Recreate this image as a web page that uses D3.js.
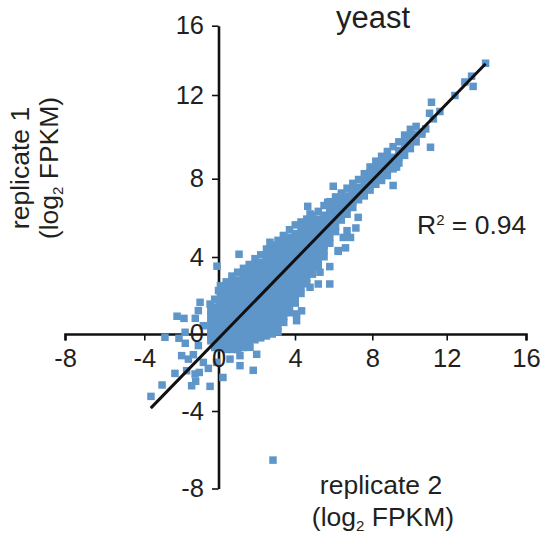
<!DOCTYPE html>
<html>
<head>
<meta charset="utf-8">
<script src="https://d3js.org/d3.v7.min.js"></script>
<style>
  html, body { margin: 0; padding: 0; background: #fff; }
  text { font-family: "Liberation Sans", Arial, sans-serif; fill: #231f20; }
</style>
</head>
<body>
<svg id="chart" width="542" height="537"></svg>
<script>
const xTicks = [-8, -4, 0, 4, 8, 12, 16];
const yTicks = [-8, -4, 0, 4, 8, 12, 16];

// fit line, replicate 2 / replicate 1
const fitX = [-3.53, 13.92];
const fitY = [-3.84, 13.99];

// isolated points
const outlierX = [-3.52, -2.94, -2.27, -1.40, -1.19, -0.44, 0.23, 1.81, 1.12, 1.99, -2.79, -2.06, -1.73, -1.74, -2.16, -1.80, -1.21, -0.96, -0.44, 0.00, -0.08, 1.07, -1.92, -1.57, -1.31, -1.66, -1.22, -1.00, -0.53, -0.79, -1.05, -1.05, -0.79, 1.12, 0.60, 1.64, -0.10, 2.84,
  13.92, 13.19, 13.27, 12.84, 12.32, 11.10, 11.00, 11.54, 11.20, 10.80, 11.05, 9.10, 5.98, 4.65, 4.77, 5.69, 3.38, 2.68, 7.28, 7.16, 6.88, 6.62, 6.24, 9.28,
  4.07, 4.33, 4.07, 5.20, 5.80, 5.80, 5.29, 4.77, 6.50, 6.24, 6.70];
const outlierY = [-3.23, -2.64, -2.04, -2.68, -2.45, -2.71, -2.25, -1.88, -1.64, -1.05, -0.17, -0.22, -0.48, 0.09, 0.92, 0.81, 0.81, 1.64, 1.55, 2.25, 3.51, 4.13, -1.12, -1.30, -1.07, -1.90, -2.07, -1.99, -1.78, -1.47, -0.60, 1.21, 0.43, -1.12, -1.30, -0.69, -1.47, -6.53,
  14.02, 13.35, 12.82, 13.05, 12.35, 12.00, 11.43, 11.52, 11.14, 10.62, 9.67, 7.69, 7.65, 6.61, 6.22, 6.82, 5.09, 4.75, 6.04, 5.49, 5.00, 4.46, 4.28, 8.64,
  0.69, 1.20, 1.04, 2.59, 2.59, 3.49, 3.20, 2.42, 5.00, 4.32, 5.35];

// dense cloud, listed column by column
const cloudCols = [-0.4, -0.2, 0.1, 0.4, 0.7, 1.0, 1.3, 1.6, 1.9, 2.2, 2.5, 2.8, 3.1, 3.4, 3.7, 4.0, 4.3, 4.6, 4.9, 5.2, 5.5, 5.8, 6.1, 6.4, 6.7, 7.0, 7.3, 7.6, 7.9, 8.2, 8.5, 8.8, 9.1, 9.4, 9.7, 10.0, 10.3, 10.6];
const cloudRows = [
  [-0.35, -0.05, 0.25, 0.55, 0.85, 1.2],
  [-0.7, -0.4, -0.1, 0.2, 0.5, 0.8, 1.1, 1.4, 1.8],
  [-0.7, -0.4, -0.1, 0.2, 0.5, 0.8, 1.1, 1.4, 1.7, 2.0, 2.25, 2.5],
  [-0.8, -0.5, -0.2, 0.1, 0.4, 0.7, 1.0, 1.3, 1.6, 1.9, 2.2, 2.45, 2.7],
  [-0.8, -0.5, -0.2, 0.1, 0.4, 0.7, 1.0, 1.3, 1.6, 1.9, 2.2, 2.5, 2.75, 3.0],
  [-0.8, -0.5, -0.2, 0.1, 0.4, 0.7, 1.0, 1.3, 1.6, 1.9, 2.2, 2.5, 2.8, 3.2],
  [-0.7, -0.4, -0.1, 0.2, 0.5, 0.8, 1.1, 1.4, 1.7, 2.0, 2.3, 2.6, 2.9, 3.15, 3.4],
  [-0.5, -0.2, 0.1, 0.4, 0.7, 1.0, 1.3, 1.6, 1.9, 2.2, 2.5, 2.8, 3.1, 3.35, 3.6],
  [-0.3, 0.0, 0.3, 0.6, 0.9, 1.2, 1.5, 1.8, 2.1, 2.4, 2.7, 3.0, 3.3, 3.6, 3.9],
  [-0.2, 0.1, 0.4, 0.7, 1.0, 1.3, 1.6, 1.9, 2.2, 2.5, 2.8, 3.1, 3.4, 3.7, 4.1],
  [-0.1, 0.2, 0.5, 0.8, 1.1, 1.4, 1.7, 2.0, 2.3, 2.6, 2.9, 3.2, 3.5, 3.8, 4.1, 4.4],
  [0.0, 0.3, 0.6, 0.9, 1.2, 1.5, 1.8, 2.1, 2.4, 2.7, 3.0, 3.3, 3.6, 3.9, 4.25, 4.6],
  [0.1, 0.4, 0.7, 1.0, 1.3, 1.6, 1.9, 2.2, 2.5, 2.8, 3.1, 3.4, 3.7, 4.0, 4.3, 4.55, 4.85],
  [0.6, 0.9, 1.2, 1.5, 1.8, 2.1, 2.4, 2.7, 3.0, 3.3, 3.6, 3.9, 4.2, 4.5, 4.8, 5.1],
  [1.1, 1.4, 1.7, 2.0, 2.3, 2.6, 2.9, 3.2, 3.5, 3.8, 4.1, 4.4, 4.7, 5.0, 5.4],
  [1.6, 1.9, 2.2, 2.5, 2.8, 3.1, 3.4, 3.7, 4.0, 4.3, 4.6, 4.9, 5.2, 5.65],
  [2.1, 2.4, 2.7, 3.0, 3.3, 3.6, 3.9, 4.2, 4.5, 4.8, 5.1, 5.45, 5.8],
  [2.6, 2.9, 3.2, 3.5, 3.8, 4.1, 4.4, 4.7, 5.0, 5.3, 5.6, 5.95],
  [3.1, 3.4, 3.7, 4.0, 4.3, 4.6, 4.9, 5.2, 5.5, 5.85, 6.15],
  [3.5, 3.8, 4.1, 4.4, 4.7, 5.0, 5.3, 5.6, 5.95, 6.35],
  [4.0, 4.3, 4.6, 4.9, 5.2, 5.5, 5.8, 6.15, 6.65],
  [4.7, 5.0, 5.3, 5.6, 5.9, 6.2, 6.5, 6.85],
  [5.3, 5.6, 5.9, 6.2, 6.5, 6.8, 7.1],
  [5.9, 6.2, 6.5, 6.8, 7.05, 7.3],
  [6.2, 6.5, 6.8, 7.15, 7.55],
  [6.55, 6.85, 7.15, 7.45, 7.8],
  [6.95, 7.25, 7.6, 8.0],
  [7.15, 7.45, 7.75, 8.0, 8.3],
  [7.45, 7.75, 8.05, 8.35, 8.65],
  [7.75, 8.05, 8.35, 8.65, 8.95],
  [7.95, 8.25, 8.55, 8.85, 9.2],
  [8.2, 8.5, 8.8, 9.1, 9.45],
  [8.55, 8.85, 9.15, 9.7],
  [8.85, 9.15, 9.5, 9.95],
  [9.25, 9.6, 9.95, 10.3],
  [9.6, 9.9, 10.25, 10.6],
  [9.95, 10.35, 10.75],
  [10.35, 10.45]
];

const svg = d3.select('#chart');
const x = d3.scaleLinear().domain([-8, 16]).range([65, 525.5]);
const y = d3.scaleLinear().domain([-8, 16]).range([488.5, 25]);
// the printed axes are not quite even, so ticks get their own scales
const xTickScale = d3.scaleLinear().domain(xTicks).range([65, 144.3, 218.5, 295, 372.3, 446.7, 526]);
const yTickScale = d3.scaleLinear().domain(yTicks).range([488.5, 411, 333.3, 257, 178.7, 95, 25.7]);
const blue = '#5f96c9';
const ink = '#111';
const size = 7.5;

const points = [];
cloudCols.forEach((c, i) => cloudRows[i].forEach(v => points.push([c, v])));
outlierX.forEach((v, i) => points.push([v, outlierY[i]]));

// axis lines under the points
const xLines = svg.append('g')
  .attr('transform', `translate(0,${y(0)})`)
  .call(d3.axisBottom(xTickScale).tickValues(xTicks).tickSize(6.5).tickSizeOuter(6.5).tickFormat(''));
const yLines = svg.append('g')
  .attr('transform', `translate(${x(0)},0)`)
  .call(d3.axisLeft(yTickScale).tickValues(yTicks).tickSize(6.5).tickSizeOuter(0).tickFormat(''));
[xLines, yLines].forEach(a => {
  a.selectAll('.domain').attr('stroke', ink).attr('stroke-width', 2.6);
  a.selectAll('.tick line').attr('stroke', ink).attr('stroke-width', 1.6);
});

svg.append('g').selectAll('rect')
  .data(points).enter().append('rect')
  .attr('x', d => x(d[0]) - size / 2)
  .attr('y', d => y(d[1]) - size / 2)
  .attr('width', size).attr('height', size)
  .attr('fill', blue);

svg.append('line')
  .attr('x1', x(fitX[0])).attr('y1', y(fitY[0]))
  .attr('x2', x(fitX[1])).attr('y2', y(fitY[1]))
  .attr('stroke', ink).attr('stroke-width', 3);

// tick labels on top of the cloud
const xLabels = svg.append('g')
  .attr('transform', `translate(0,${y(0)})`)
  .call(d3.axisBottom(xTickScale).tickValues(xTicks).tickSize(6.5).tickPadding(8.5).tickFormat(d => String(d)));
const yLabels = svg.append('g')
  .attr('transform', `translate(${x(0)},0)`)
  .call(d3.axisLeft(yTickScale).tickValues(yTicks).tickSize(6.5).tickPadding(8).tickFormat(d => String(d)));
[xLabels, yLabels].forEach(a => {
  a.selectAll('.domain, .tick line').remove();
  a.selectAll('text').attr('font-size', 25.5).attr('font-family', '"Liberation Sans", Arial, sans-serif').attr('fill', '#231f20');
});

svg.append('text').attr('x', 373).attr('y', 28).attr('text-anchor', 'middle')
  .attr('font-size', 31).text('yeast');

const r2 = svg.append('text').attr('x', 417).attr('y', 234).attr('font-size', 26.5);
r2.append('tspan').text('R');
r2.append('tspan').attr('font-size', 15).attr('dy', -9).text('2');
r2.append('tspan').attr('dy', 9).text(' = 0.94');

function logLabel(sel) {
  sel.append('tspan').text('(log');
  sel.append('tspan').attr('font-size', 15).attr('dy', 5).text('2');
  sel.append('tspan').attr('dy', -5).text(' FPKM)');
}

svg.append('text').attr('x', 381).attr('y', 494).attr('text-anchor', 'middle')
  .attr('font-size', 26.5).text('replicate 2');
logLabel(svg.append('text').attr('x', 383).attr('y', 526).attr('text-anchor', 'middle').attr('font-size', 26.5));

svg.append('text').attr('transform', 'translate(29,168) rotate(-90)').attr('text-anchor', 'middle')
  .attr('font-size', 26.5).text('replicate 1');
logLabel(svg.append('text').attr('transform', 'translate(58,168) rotate(-90)').attr('text-anchor', 'middle').attr('font-size', 26.5));
</script>
</body>
</html>
